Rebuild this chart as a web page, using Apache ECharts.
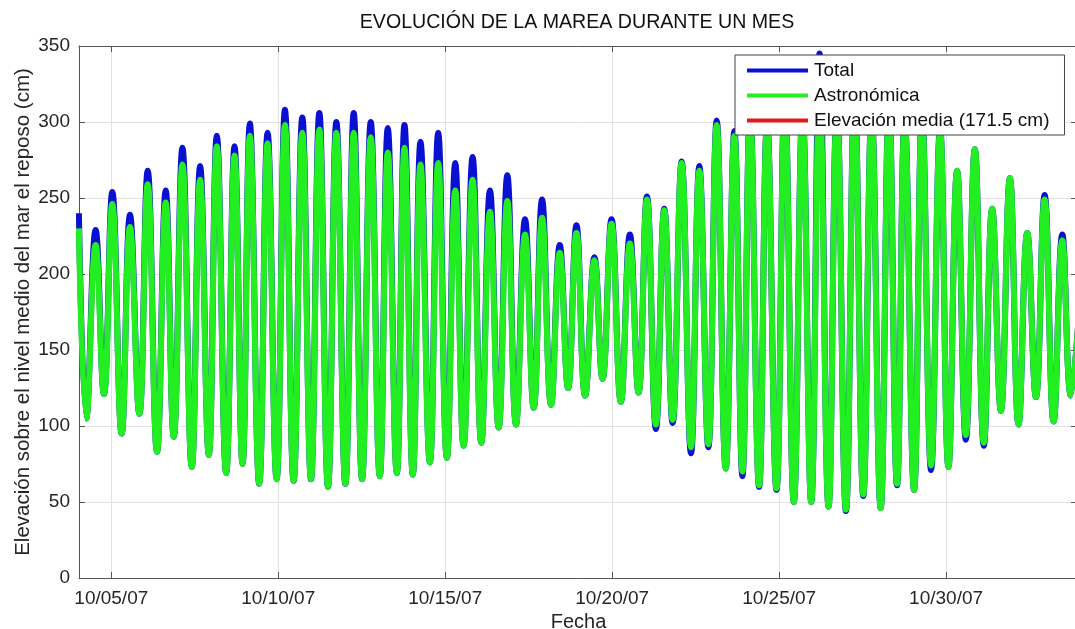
<!DOCTYPE html>
<html>
<head>
<meta charset="utf-8">
<script src="https://cdn.jsdelivr.net/npm/echarts@6/dist/echarts.min.js"></script>
<style>
html,body{margin:0;padding:0;background:#fff;}
#chart{width:1075px;height:629px;}
</style>
</head>
<body>
<div id="chart"></div>
<script>
// Time of each tide extreme, in days of October 2007 (4.0 = 10/04/07 00:00)
const tideDays = [
  4.03, 4.25, 4.53, 4.78, 5.03, 5.31, 5.56, 5.84, 6.09, 6.37,
  6.63, 6.87, 7.13, 7.41, 7.66, 7.92, 8.16, 8.44, 8.69, 8.93,
  9.15, 9.43, 9.68, 9.95, 10.20, 10.46, 10.72, 10.98, 11.23, 11.49,
  11.74, 12.01, 12.26, 12.51, 12.77, 13.04, 13.28, 13.55, 13.78, 14.03,
  14.26, 14.54, 14.79, 15.05, 15.30, 15.55, 15.82, 16.08, 16.34, 16.60,
  16.86, 17.12, 17.39, 17.65, 17.90, 18.17, 18.43, 18.68, 18.93, 19.19,
  19.47, 19.71, 19.98, 20.26, 20.53, 20.79, 21.04, 21.31, 21.56, 21.81,
  22.08, 22.36, 22.61, 22.88, 23.13, 23.40, 23.66, 23.90, 24.13, 24.40,
  24.64, 24.92, 25.17, 25.44, 25.70, 25.96, 26.21, 26.48, 26.73, 27.00,
  27.26, 27.52, 27.77, 28.04, 28.29, 28.53, 28.76, 29.04, 29.28, 29.55,
  29.82, 30.07, 30.33, 30.59, 30.86, 31.13, 31.38, 31.64, 31.91, 32.17,
  32.43, 32.69, 32.95, 33.22, 33.48, 33.74, 33.95
];
// Total (observed) elevation, cm
const totalCm = [
  240, 105, 229, 121, 254, 95, 239, 108, 268, 83,
  255, 93, 283, 73, 271, 81, 291, 69, 284, 75,
  299, 62, 293, 65, 308, 64, 303, 65, 306, 60,
  300, 62, 306, 65, 300, 67, 296, 69, 298, 68,
  287, 76, 293, 79, 273, 87, 277, 89, 255, 99,
  265, 101, 236, 112, 249, 114, 219, 125, 232, 120,
  211, 131, 236, 116, 226, 122, 251, 98, 243, 102,
  274, 82, 271, 86, 301, 72, 294, 67, 308, 60,
  300, 58, 315, 50, 308, 50, 345, 47, 312, 44,
  320, 54, 307, 46, 313, 61, 302, 58, 306, 71,
  296, 73, 268, 91, 282, 87, 243, 110, 263, 101,
  227, 119, 252, 103, 226, 120, 165
];
// Astronomical tide elevation, cm
const astroCm = [
  230, 105, 219, 121, 246, 95, 231, 108, 259, 83,
  247, 93, 272, 73, 262, 81, 284, 69, 278, 75,
  291, 62, 286, 65, 298, 64, 293, 65, 295, 60,
  293, 62, 293, 65, 290, 67, 280, 69, 283, 68,
  272, 76, 273, 79, 255, 87, 262, 89, 241, 99,
  248, 101, 226, 112, 237, 114, 214, 125, 227, 120,
  209, 131, 233, 116, 220, 122, 249, 101, 242, 104,
  273, 86, 268, 88, 298, 72, 291, 70, 305, 61,
  297, 59, 312, 50, 305, 50, 318, 47, 308, 45,
  316, 55, 304, 46, 310, 62, 300, 58, 303, 74,
  294, 73, 268, 94, 282, 89, 243, 110, 263, 101,
  227, 119, 249, 103, 222, 120, 165
];
const meanElevation = 171.5;
const xTickDays = [5, 10, 15, 20, 25, 30];
const xTickLabels = ['10/05/07', '10/10/07', '10/15/07', '10/20/07', '10/25/07', '10/30/07'];
const yTicks = [0, 50, 100, 150, 200, 250, 300, 350];

const seriesNames = ['Total', 'Astronómica', 'Elevación media (171.5 cm)'];

const totalData = tideDays.map((d, i) => [d, totalCm[i]]);
const astroData = tideDays.map((d, i) => [d, astroCm[i]]);

const FONT = "'Liberation Sans', Arial, sans-serif";
const TXT = '#262626';
const AX = '#555555';
const GRIDC = '#e2e2e2';
const xMin = 4.033, xMax = 33.95;

const chart = echarts.init(document.getElementById('chart'), null, {renderer: 'canvas'});
chart.setOption({
  animation: false,
  backgroundColor: '#ffffff',
  title: {
    text: 'EVOLUCIÓN DE LA MAREA DURANTE UN MES',
    left: 572, top: 8, textAlign: 'center',
    textStyle: {fontFamily: FONT, fontSize: 19.6, fontWeight: 'normal', color: '#111'}
  },
  legend: {
    data: seriesNames,
    orient: 'vertical',
    left: 735, top: 55,
    padding: [6, 15, 5, 12],
    itemGap: 6,
    itemWidth: 61, itemHeight: 4,
    icon: 'rect',
    backgroundColor: '#ffffff',
    borderColor: '#444', borderWidth: 1,
    textStyle: {fontFamily: FONT, fontSize: 19, color: '#111', padding: [0, 0, 0, 1]},
    z: 10
  },
  grid: {left: 79, top: 46, width: 999, height: 532, containLabel: false, outerBoundsMode: 'none'},
  xAxis: [{
    type: 'value', min: xMin, max: xMax, splitNumber: 6,
    name: 'Fecha', nameLocation: 'middle', nameGap: 34,
    nameTextStyle: {fontFamily: FONT, fontSize: 20, color: TXT},
    axisLine: {onZero: false, lineStyle: {color: AX, width: 1}},
    axisTick: {inside: true, length: 6, lineStyle: {color: AX}, customValues: xTickDays},
    axisLabel: {
      customValues: xTickDays, margin: 11,
      fontFamily: FONT, fontSize: 19, color: TXT,
      formatter: v => { const k = xTickDays.findIndex(t => Math.abs(t - v) < 1e-6); return k >= 0 ? xTickLabels[k] : ''; }
    },
    splitLine: {show: true, lineStyle: {color: GRIDC, width: 1}}
  }, {
    type: 'value', position: 'top', min: xMin, max: xMax, splitNumber: 6,
    axisLine: {onZero: false, lineStyle: {color: AX, width: 1}},
    axisTick: {inside: true, length: 6, lineStyle: {color: AX}, customValues: xTickDays},
    axisLabel: {show: false},
    splitLine: {show: false}
  }],
  yAxis: [{
    type: 'value', min: 0, max: 350, interval: 50,
    name: 'Elevación sobre el nivel medio del mar el reposo (cm)',
    nameLocation: 'middle', nameGap: 45, nameMoveOverlap: false,
    nameTextStyle: {fontFamily: FONT, fontSize: 20.5, color: TXT},
    axisLine: {show: true, onZero: false, lineStyle: {color: AX, width: 1}},
    axisTick: {show: true, inside: true, length: 6, lineStyle: {color: AX}},
    axisLabel: {margin: 9, fontFamily: FONT, fontSize: 19, color: TXT,
      formatter: v => yTicks.indexOf(v) >= 0 ? String(v) : ''},
    splitLine: {show: true, lineStyle: {color: GRIDC, width: 1}}
  }, {
    type: 'value', position: 'right', min: 0, max: 350, interval: 50,
    axisLine: {show: true, onZero: false, lineStyle: {color: AX, width: 1}},
    axisTick: {show: true, inside: true, length: 7, lineStyle: {color: AX}},
    axisLabel: {show: false},
    splitLine: {show: false}
  }],
  series: [{
    name: seriesNames[2], type: 'line', data: [],
    itemStyle: {color: '#e31a1a'}, lineStyle: {color: '#e31a1a', width: 4},
    showSymbol: false, z: 1
  }, {
    name: seriesNames[0], type: 'line', data: totalData,
    smooth: 0.45, showSymbol: false, clip: true,
    itemStyle: {color: '#0a10d2'}, lineStyle: {color: '#0a10d2', width: 6},
    z: 2
  }, {
    name: seriesNames[1], type: 'line', data: astroData,
    smooth: 0.45, showSymbol: false, clip: true,
    itemStyle: {color: '#22ee22'}, lineStyle: {color: '#22ee22', width: 6},
    z: 3
  }]
});
</script>
</body>
</html>
